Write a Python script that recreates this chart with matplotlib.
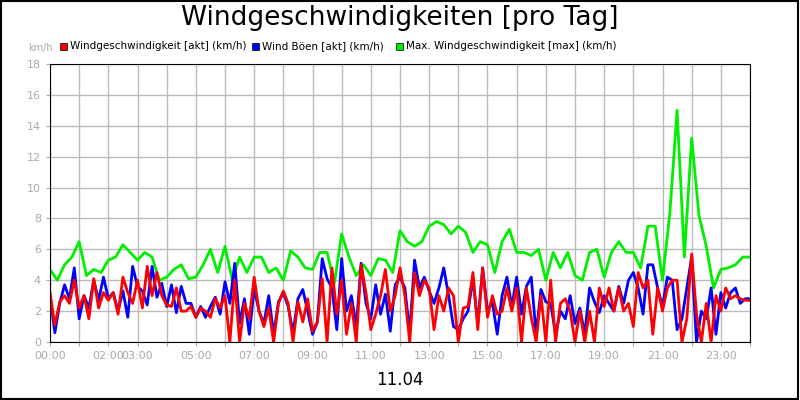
import matplotlib
matplotlib.use("Agg")
import matplotlib.pyplot as plt
import numpy as np
from matplotlib.patches import Rectangle

max_speed = [4.7,4.0,5.0,5.5, 6.5,4.3,4.7,4.5, 5.3,5.5,6.3,5.8, 5.3,5.8,5.5,4.0,
             4.2,4.7,5.0,4.1, 4.2,5.0,6.0,4.5, 6.2,4.0,5.5,4.5, 5.5,5.5,4.5,4.8,
             4.0,5.9,5.5,4.8, 4.7,5.8,5.8,3.8, 7.0,5.5,4.3,5.0, 4.3,5.4,5.3,4.5,
             7.2,6.5,6.2,6.5, 7.5,7.8,7.6,7.0, 7.5,7.1,5.8,6.5, 6.3,4.5,6.5,7.3,
             5.8,5.8,5.6,6.0, 4.0,5.8,4.8,5.8, 4.3,4.0,5.8,6.0, 4.2,5.8,6.5,5.8,
             5.8,4.8,7.5,7.5, 4.0,8.3,15.0,5.5, 13.2,8.2,6.2,3.5, 4.7,4.8,5.0,5.5, 5.5]
speed = [3.2,1.1,2.6,3.0,2.5,4.0, 2.2,3.0,1.5,4.1,2.2,3.2, 2.7,3.2,1.8,4.2,3.2,2.5,
         4.0,2.2,4.9,3.0,4.5,3.0, 2.4,2.3,3.5,2.0,2.0,2.3, 1.6,2.2,2.0,1.6,2.8,2.2,
         3.0,0,4.0,0,2.5,1.5, 4.2,2.0,1.0,2.2,0,2.5, 3.3,2.5,0,2.6,1.3,2.8,
         0.7,1.3,4.1,0,4.8,1.8, 4.0,0.5,2.5,0,5.0,3.2, 0.8,1.8,3.0,4.7,2.0,3.0,
         4.8,3.0,0,4.5,3.0,4.0, 3.5,0.8,3.0,2.0,3.5,3.0, 0,2.2,2.3,4.5,0.8,4.8,
         1.6,3.0,1.8,2.0,3.5,2.0, 3.5,0,3.5,1.6,0,3.0, 0,4.0,0,2.5,2.8,2.0,
         0,2.0,0,2.0,0,3.5, 2.3,3.5,2.0,3.5,2.0,2.5, 1.0,4.5,3.5,4.0,0.5,3.5,
         2.0,3.5,4.0,4.0,0,1.5, 5.7,1.8,0,2.5,0,3.0, 2.0,3.5,2.8,3.0,2.8,2.7, 2.7]
gusts = [3.0,0.6,2.5,3.7,2.8,4.8, 1.5,3.0,2.2,4.0,2.7,4.2, 2.8,3.2,2.0,3.3,1.6,4.9,
         3.6,3.3,2.4,4.9,2.9,3.8, 2.3,3.7,1.9,3.6,2.5,2.5, 1.6,2.3,1.6,2.3,2.9,1.8,
         3.9,2.5,5.1,1.2,2.8,0.5, 3.5,2.0,1.2,3.0,0.5,2.6, 3.2,2.3,0.6,2.8,3.4,2.0,
         0.5,1.3,5.4,4.1,3.5,0.8, 5.4,2.0,3.0,1.0,5.1,2.5, 1.5,3.7,1.8,3.1,0.7,3.7,
         4.2,3.5,0.6,5.3,3.5,4.2, 3.3,2.5,3.5,4.8,3.0,1.0, 0.8,1.5,2.0,4.1,1.2,4.8,
         2.0,2.6,0.5,3.0,4.2,2.3, 4.2,1.8,3.6,4.2,0.5,3.4, 2.6,2.5,0.5,2.0,1.5,3.0,
         1.2,2.2,0.5,3.5,2.6,1.9, 3.0,2.5,2.0,3.6,2.5,4.0, 4.5,3.5,1.8,5.0,5.0,3.5,
         2.3,4.2,4.0,0.8,1.5,3.5, 5.5,0,2.0,1.5,3.5,0.5, 3.2,2.2,3.2,3.5,2.5,2.8, 2.8]
tick_hours = [0, 2, 3, 5, 7, 9, 11, 13, 15, 17, 19, 21, 23]
tick_labels = ["00:00", "02:00", "03:00", "05:00", "07:00", "09:00", "11:00",
               "13:00", "15:00", "17:00", "19:00", "21:00", "23:00"]

fig = plt.figure(figsize=(8, 4), dpi=100)
fig.patch.set_facecolor("white")
fig.add_artist(Rectangle((0.001, 0.002), 0.997, 0.995, transform=fig.transFigure,
                         fill=False, edgecolor="black", lw=1.5))
ax = fig.add_axes([0.0625, 0.145, 0.875, 0.695])
xm = np.linspace(0, 24, len(max_speed))
xs = np.linspace(0, 24, len(speed))
xg = np.linspace(0, 24, len(gusts))
ax.plot(xm, max_speed, color="#00ee00", lw=2)
ax.plot(xg, gusts, color="#0000ff", lw=2)
ax.plot(xs, speed, color="#ff0000", lw=2)
ax.set_xlim(0, 24)
ax.set_ylim(0, 18)
ax.set_xticks(range(25), minor=False)
ax.set_xticklabels([tick_labels[tick_hours.index(h)] if h in tick_hours else "" for h in range(25)])
ax.set_yticks(range(0, 19, 2))
ax.grid(True, color="#bbbbbb", lw=1)
ax.tick_params(colors="#aaaaaa", labelsize=8, length=3, labelcolor="#aaaaaa")
for s in ax.spines.values():
    s.set_color("black")
fig.text(0.5, 0.955, "Windgeschwindigkeiten [pro Tag]", ha="center", va="center", fontsize=19)
fig.text(0.5, 0.05, "11.04", ha="center", va="center", fontsize=12)
fig.text(0.035, 0.88, "km/h", ha="left", va="center", fontsize=7, color="#aaaaaa")
items = [(0.075, "#ff0000", "Windgeschwindigkeit [akt] (km/h)"),
         (0.315, "#0000ff", "Wind Böen [akt] (km/h)"),
         (0.495, "#00ee00", "Max. Windgeschwindigkeit [max] (km/h)")]
for x, c, t in items:
    fig.add_artist(Rectangle((x, 0.875), 0.009, 0.018, transform=fig.transFigure,
                             facecolor=c, edgecolor="black", lw=0.5))
    fig.text(x + 0.013, 0.885, t, ha="left", va="center", fontsize=7.5)
fig.savefig("out.png", dpi=100)
